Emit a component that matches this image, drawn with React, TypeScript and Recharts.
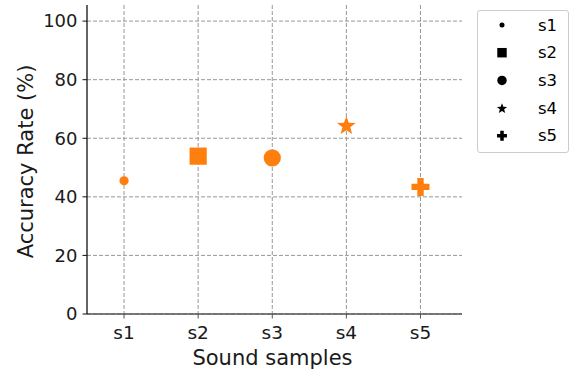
import React from 'react';
import { ScatterChart, Scatter, XAxis, YAxis, CartesianGrid, Legend } from 'recharts';

const categories = ['s1', 's2', 's3', 's4', 's5'];
const accuracy = [45.5, 53.9, 53.3, 64.5, 43.4];
const markerKinds = ['dot', 'square', 'circle', 'star', 'plus'];
const yTicks = [0, 20, 40, 60, 80, 100];
const xTicks = [0, 1, 2, 3, 4];

const ORANGE = '#ff7f0e';
const FONT = 'DejaVu Sans, sans-serif';

function Marker({ kind, cx, cy, s = 1, fill }: { kind: string; cx: number; cy: number; s?: number; fill: string }) {
  if (kind === 'dot') return <circle cx={cx} cy={cy} r={4.6 * s} fill={fill} />;
  if (kind === 'circle') return <circle cx={cx} cy={cy} r={8.6 * s} fill={fill} />;
  if (kind === 'square') {
    const h = 8.6 * s;
    return <rect x={cx - h} y={cy - h} width={2 * h} height={2 * h} fill={fill} />;
  }
  if (kind === 'star') {
    const R = 9.8 * s;
    const r = R * 0.42;
    const pts: string[] = [];
    for (let k = 0; k < 10; k++) {
      const a = ((-90 + k * 36) * Math.PI) / 180;
      const rad = k % 2 === 0 ? R : r;
      pts.push(`${cx + rad * Math.cos(a)},${cy + rad * Math.sin(a) + 1 * s}`);
    }
    return <polygon points={pts.join(' ')} fill={fill} />;
  }
  // plus
  const H = 9 * s;
  const a = 3.2 * s;
  const pts = [
    [-a, -H], [a, -H], [a, -a], [H, -a], [H, a], [a, a], [a, H], [-a, H], [-a, a], [-H, a], [-H, -a], [-a, -a],
  ].map(([x, y]) => `${cx + x},${cy + y}`);
  return <polygon points={pts.join(' ')} fill={fill} />;
}

const series = categories.map((name, i) => ({
  name,
  kind: markerKinds[i],
  data: [{ x: i, y: accuracy[i] }],
}));

const renderLegend = () => (
  <div
    style={{
      width: 92,
      height: 143,
      boxSizing: 'border-box',
      border: '1px solid #cccccc',
      borderRadius: 3,
      background: '#fff',
    }}
  >
    <svg width={90} height={141} style={{ display: 'block' }}>
      {series.map((sr, i) => {
        const cy = 14 + i * 27.7;
        return (
          <g key={sr.name}>
            <Marker kind={sr.kind} cx={24} cy={cy} s={0.55} fill="#000" />
            <text x={60} y={cy} dominantBaseline="central" fontSize={16.5} fontFamily={FONT} fill="#000">
              {sr.name}
            </text>
          </g>
        );
      })}
    </svg>
  </div>
);

export default function App() {
  return (
    <div style={{ position: 'absolute', left: 0, top: 0, background: '#fff' }}>
      <ScatterChart width={571} height={369} margin={{ top: 5, right: 109, left: 0, bottom: 0 }}>
        <CartesianGrid stroke="#8c8c8c" strokeDasharray="4 2" strokeWidth={0.9} syncWithTicks />
        <XAxis
          dataKey="x"
          type="number"
          domain={[-0.5, 4.56]}
          ticks={xTicks}
          allowDataOverflow
          height={55}
          tickFormatter={(v: number) => categories[v]}
          axisLine={{ stroke: '#555', strokeWidth: 1.3 }}
          tickLine={{ stroke: '#555' }}
          tickSize={4.5}
          tickMargin={7.5}
          tick={{ fontSize: 18.5, fill: '#1a1a1a', fontFamily: FONT }}
          label={{
            content: (p: any) => {
              const vb = p.viewBox;
              return (
                <text x={vb.x + vb.width / 2 - 2} y={vb.y + 51} textAnchor="middle" fontSize={21} fontFamily={FONT} fill="#1a1a1a">
                  Sound samples
                </text>
              );
            },
          }}
        />
        <YAxis
          dataKey="y"
          type="number"
          domain={[0, 105.5]}
          ticks={yTicks}
          allowDataOverflow
          width={87}
          axisLine={{ stroke: '#111', strokeWidth: 1.3 }}
          tickLine={{ stroke: '#111' }}
          tickSize={4.5}
          tickMargin={5}
          tick={{ fontSize: 18, fill: '#1a1a1a', fontFamily: FONT }}
          label={{
            content: (p: any) => {
              const vb = p.viewBox;
              const x = 26;
              const y = vb.y + vb.height / 2 + 2;
              return (
                <text
                  x={x}
                  y={y}
                  transform={`rotate(-90 ${x} ${y})`}
                  textAnchor="middle"
                  dominantBaseline="central"
                  fontSize={21}
                  fontFamily={FONT}
                  fill="#1a1a1a"
                >
                  Accuracy Rate (%)
                </text>
              );
            },
          }}
        />
        {series.map((sr) => (
          <Scatter
            key={sr.name}
            name={sr.name}
            data={sr.data}
            fill={ORANGE}
            isAnimationActive={false}
            shape={(p: any) => <Marker kind={sr.kind} cx={p.cx} cy={p.cy} fill={ORANGE} />}
          />
        ))}
        <Legend
          layout="horizontal"
          verticalAlign="middle"
          align="center"
          wrapperStyle={{ left: 477, top: 10, width: 92, height: 143 }}
          content={renderLegend}
        />
      </ScatterChart>
    </div>
  );
}
